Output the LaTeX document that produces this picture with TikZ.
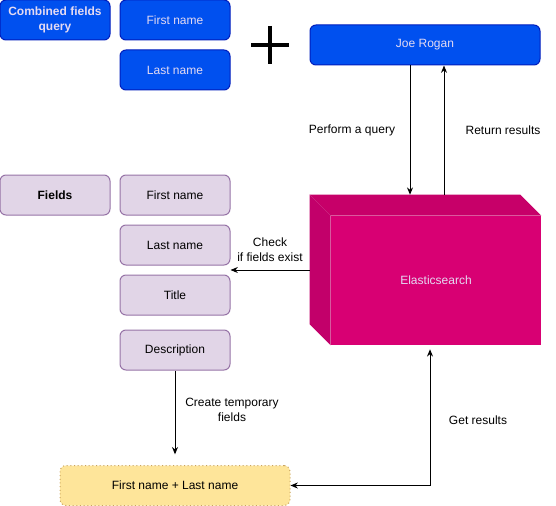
\documentclass[tikz,border=0pt]{standalone}
\usepackage{fontspec}
\setmainfont{Liberation Sans}
\usetikzlibrary{calc,arrows.meta}
\definecolor{blueF}{HTML}{0050EF}
\definecolor{blueD}{HTML}{001DBC}
\definecolor{lavT}{HTML}{E4DAF2}
\definecolor{purF}{HTML}{E1D5E7}
\definecolor{purD}{HTML}{9673A6}
\definecolor{yelF}{HTML}{FEE59A}
\definecolor{yelD}{HTML}{C9A35E}
\definecolor{esF}{HTML}{D80073}
\definecolor{esTop}{HTML}{C70069}
\definecolor{esSide}{HTML}{C2006A}
\begin{document}
\begin{tikzpicture}[x=0.75pt,y=-0.75pt,>={Stealth[length=5.5pt,width=4.5pt]},
	every node/.style={font=\fontsize{9}{11.25}\selectfont},
	box/.style={rectangle,rounded corners=4.5pt,minimum width=82.5pt,minimum height=30pt,line width=0.75pt,align=center,inner sep=1pt},
	bluebox/.style={box,fill=blueF,draw=blueD,text=lavT},
	purplebox/.style={box,fill=purF,draw=purD},
	lbl/.style={align=center,inner sep=1pt},
	link/.style={->,line width=0.75pt}]
	\useasboundingbox (0,0) rectangle (556,506);
	% query side
	\node[bluebox,font=\fontsize{9}{11.25}\selectfont\bfseries] (cfq) at (55,20) {Combined fields\\query};
	\node[bluebox] (bfn) at (175,20) {First name};
	\node[bluebox] (bln) at (175,70) {Last name};
	\draw[line width=2.4pt] (251,45)--(289,45) (270,26)--(270,64);
	\node[bluebox,minimum width=172.5pt] (jr) at (425,45) {Joe Rogan};
	% fields
	\node[purplebox,font=\fontsize{9}{11.25}\selectfont\bfseries] (fld) at (55,195) {Fields};
	\node[purplebox] (ffn) at (175,195) {First name};
	\node[purplebox] (fln) at (175,245) {Last name};
	\node[purplebox] (ftt) at (175,295) {Title};
	\node[purplebox] (fds) at (175,350) {Description};
	\node[box,minimum width=172.5pt,fill=yelF,draw=yelD,dotted] (tmp) at (175,485.5) {First name + Last name};
	% elasticsearch cube
	\node[minimum width=157.5pt,minimum height=96.75pt,inner sep=0pt,fill=esF,text=lavT] (es) at (436,280.5) {Elasticsearch};
	\fill[esTop] (es.north west)--++(-21,-21)--($(es.north east)+(-21,-21)$)--(es.north east)--cycle;
	\fill[esSide] (es.north west)--++(-21,-21)--($(es.south west)+(-21,-21)$)--(es.south west)--cycle;
	\path (410,0)coordinate(qx) (444,0)coordinate(rx) (430,0)coordinate(gx);
	\coordinate (estop) at ($(es.north)+(0,-21)$);
	\coordinate (esleft) at ($(es.west)+(-21,-10.5)$);
	% connectors
	\draw[link] (jr.south -| qx)--(estop -| qx);
	\draw[link] (estop -| rx)--(jr.south -| rx);
	\draw[link] (esleft)--(esleft -| fln.east);
	\draw[link,shorten >=8pt] (fds)--(tmp);
	\draw[link,<->,shorten <=3pt] (es.south -| gx) |- (tmp.east);
	\node[lbl] (lq) at (352,130) {Perform a query};
	\node[lbl] (lr) at (503,130) {Return results};
	\node[lbl] (lc) at (270,250) {Check\\if fields exist};
	\node[lbl] (lt) at (232,410) {Create temporary\\fields};
	\node[lbl] (lg) at (478,420) {Get results};
\end{tikzpicture}
\end{document}
